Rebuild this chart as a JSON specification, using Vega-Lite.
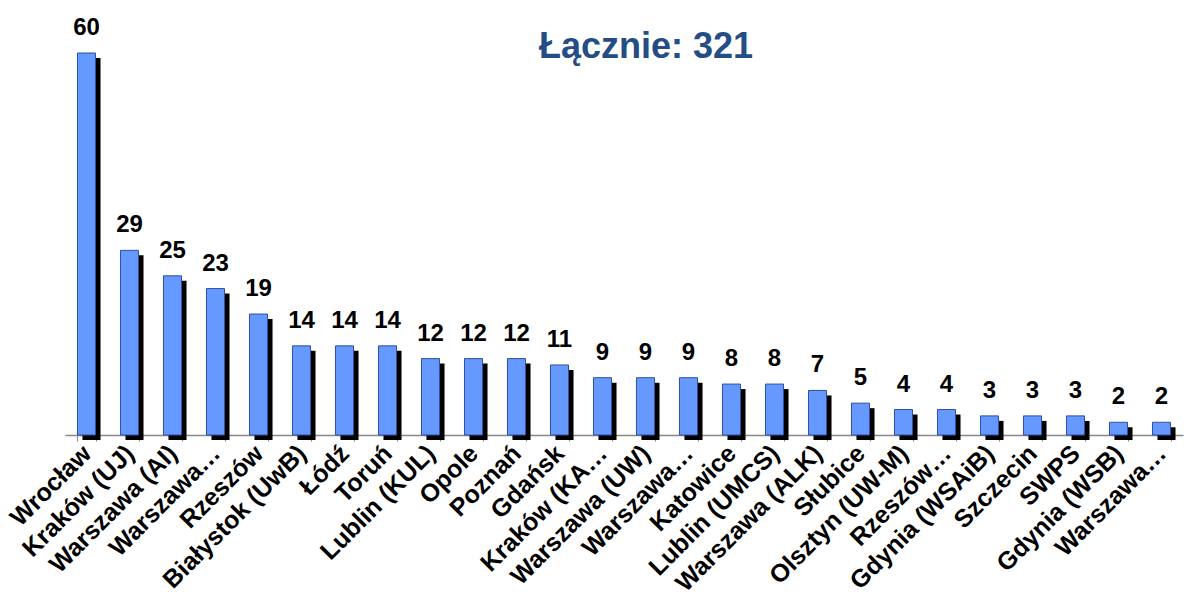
{
  "$schema": "https://vega.github.io/schema/vega-lite/v6.json",
  "autosize": {"type": "none"},
  "padding": {"left": 65, "top": 53, "right": 4, "bottom": 169},
  "width": 1118,
  "height": 382,
  "background": "white",
  "config": {"view": {"stroke": null}, "font": "Liberation Sans"},
  "title": {"text": "Łącznie: 321", "fontSize": 36, "fontWeight": "bold", "color": "#234d84", "font": "Liberation Sans", "anchor": "middle", "dx": 22, "offset": -50},
  "data": {"values": [
    {"i": 1, "name": "Wrocław", "v": 60},
    {"i": 2, "name": "Kraków (UJ)", "v": 29},
    {"i": 3, "name": "Warszawa (AI)", "v": 25},
    {"i": 4, "name": "Warszawa…", "v": 23},
    {"i": 5, "name": "Rzeszów", "v": 19},
    {"i": 6, "name": "Białystok (UwB)", "v": 14},
    {"i": 7, "name": "Łódź", "v": 14},
    {"i": 8, "name": "Toruń", "v": 14},
    {"i": 9, "name": "Lublin (KUL)", "v": 12},
    {"i": 10, "name": "Opole", "v": 12},
    {"i": 11, "name": "Poznań", "v": 12},
    {"i": 12, "name": "Gdańsk", "v": 11},
    {"i": 13, "name": "Kraków (KA…", "v": 9},
    {"i": 14, "name": "Warszawa (UW)", "v": 9},
    {"i": 15, "name": "Warszawa…\u200b", "v": 9},
    {"i": 16, "name": "Katowice", "v": 8},
    {"i": 17, "name": "Lublin (UMCS)", "v": 8},
    {"i": 18, "name": "Warszawa (ALK)", "v": 7},
    {"i": 19, "name": "Słubice", "v": 5},
    {"i": 20, "name": "Olsztyn (UW-M)", "v": 4},
    {"i": 21, "name": "Rzeszów…", "v": 4},
    {"i": 22, "name": "Gdynia (WSAiB)", "v": 3},
    {"i": 23, "name": "Szczecin", "v": 3},
    {"i": 24, "name": "SWPS", "v": 3},
    {"i": 25, "name": "Gdynia (WSB)", "v": 2},
    {"i": 26, "name": "Warszawa…\u200b\u200b", "v": 2}
  ]},
  "encoding": {
    "x": {"field": "name", "type": "nominal", "sort": {"field": "i"},
      "scale": {"paddingInner": 0.58, "paddingOuter": 0.29},
      "axis": {"title": null, "labelAngle": -45, "labelAlign": "right", "labelBaseline": "middle",
        "labelFontSize": 25, "labelFontWeight": "bold", "labelColor": "black", "labelFont": "Liberation Sans",
        "labelPadding": 8, "labelLimit": 300, "tickBand": "extent", "tickSize": 6, "tickColor": "#888888",
        "domainColor": "#888888", "domainWidth": 1.5, "labelOverlap": false}},
    "y": {"field": "v", "type": "quantitative", "scale": {"domain": [0, 60], "nice": false}, "axis": null}
  },
  "layer": [
    {"mark": {"type": "bar", "color": "black", "xOffset": 5, "x2Offset": 5, "yOffset": 5, "y2Offset": 3}},
    {"mark": {"type": "bar", "color": "#6699ff", "stroke": "#2f4f9f", "strokeWidth": 1}},
    {"mark": {"type": "text", "dy": -13, "fontSize": 24, "fontWeight": "bold", "color": "black", "font": "Liberation Sans", "baseline": "bottom"},
      "encoding": {"text": {"field": "v", "type": "quantitative"}}}
  ]
}
